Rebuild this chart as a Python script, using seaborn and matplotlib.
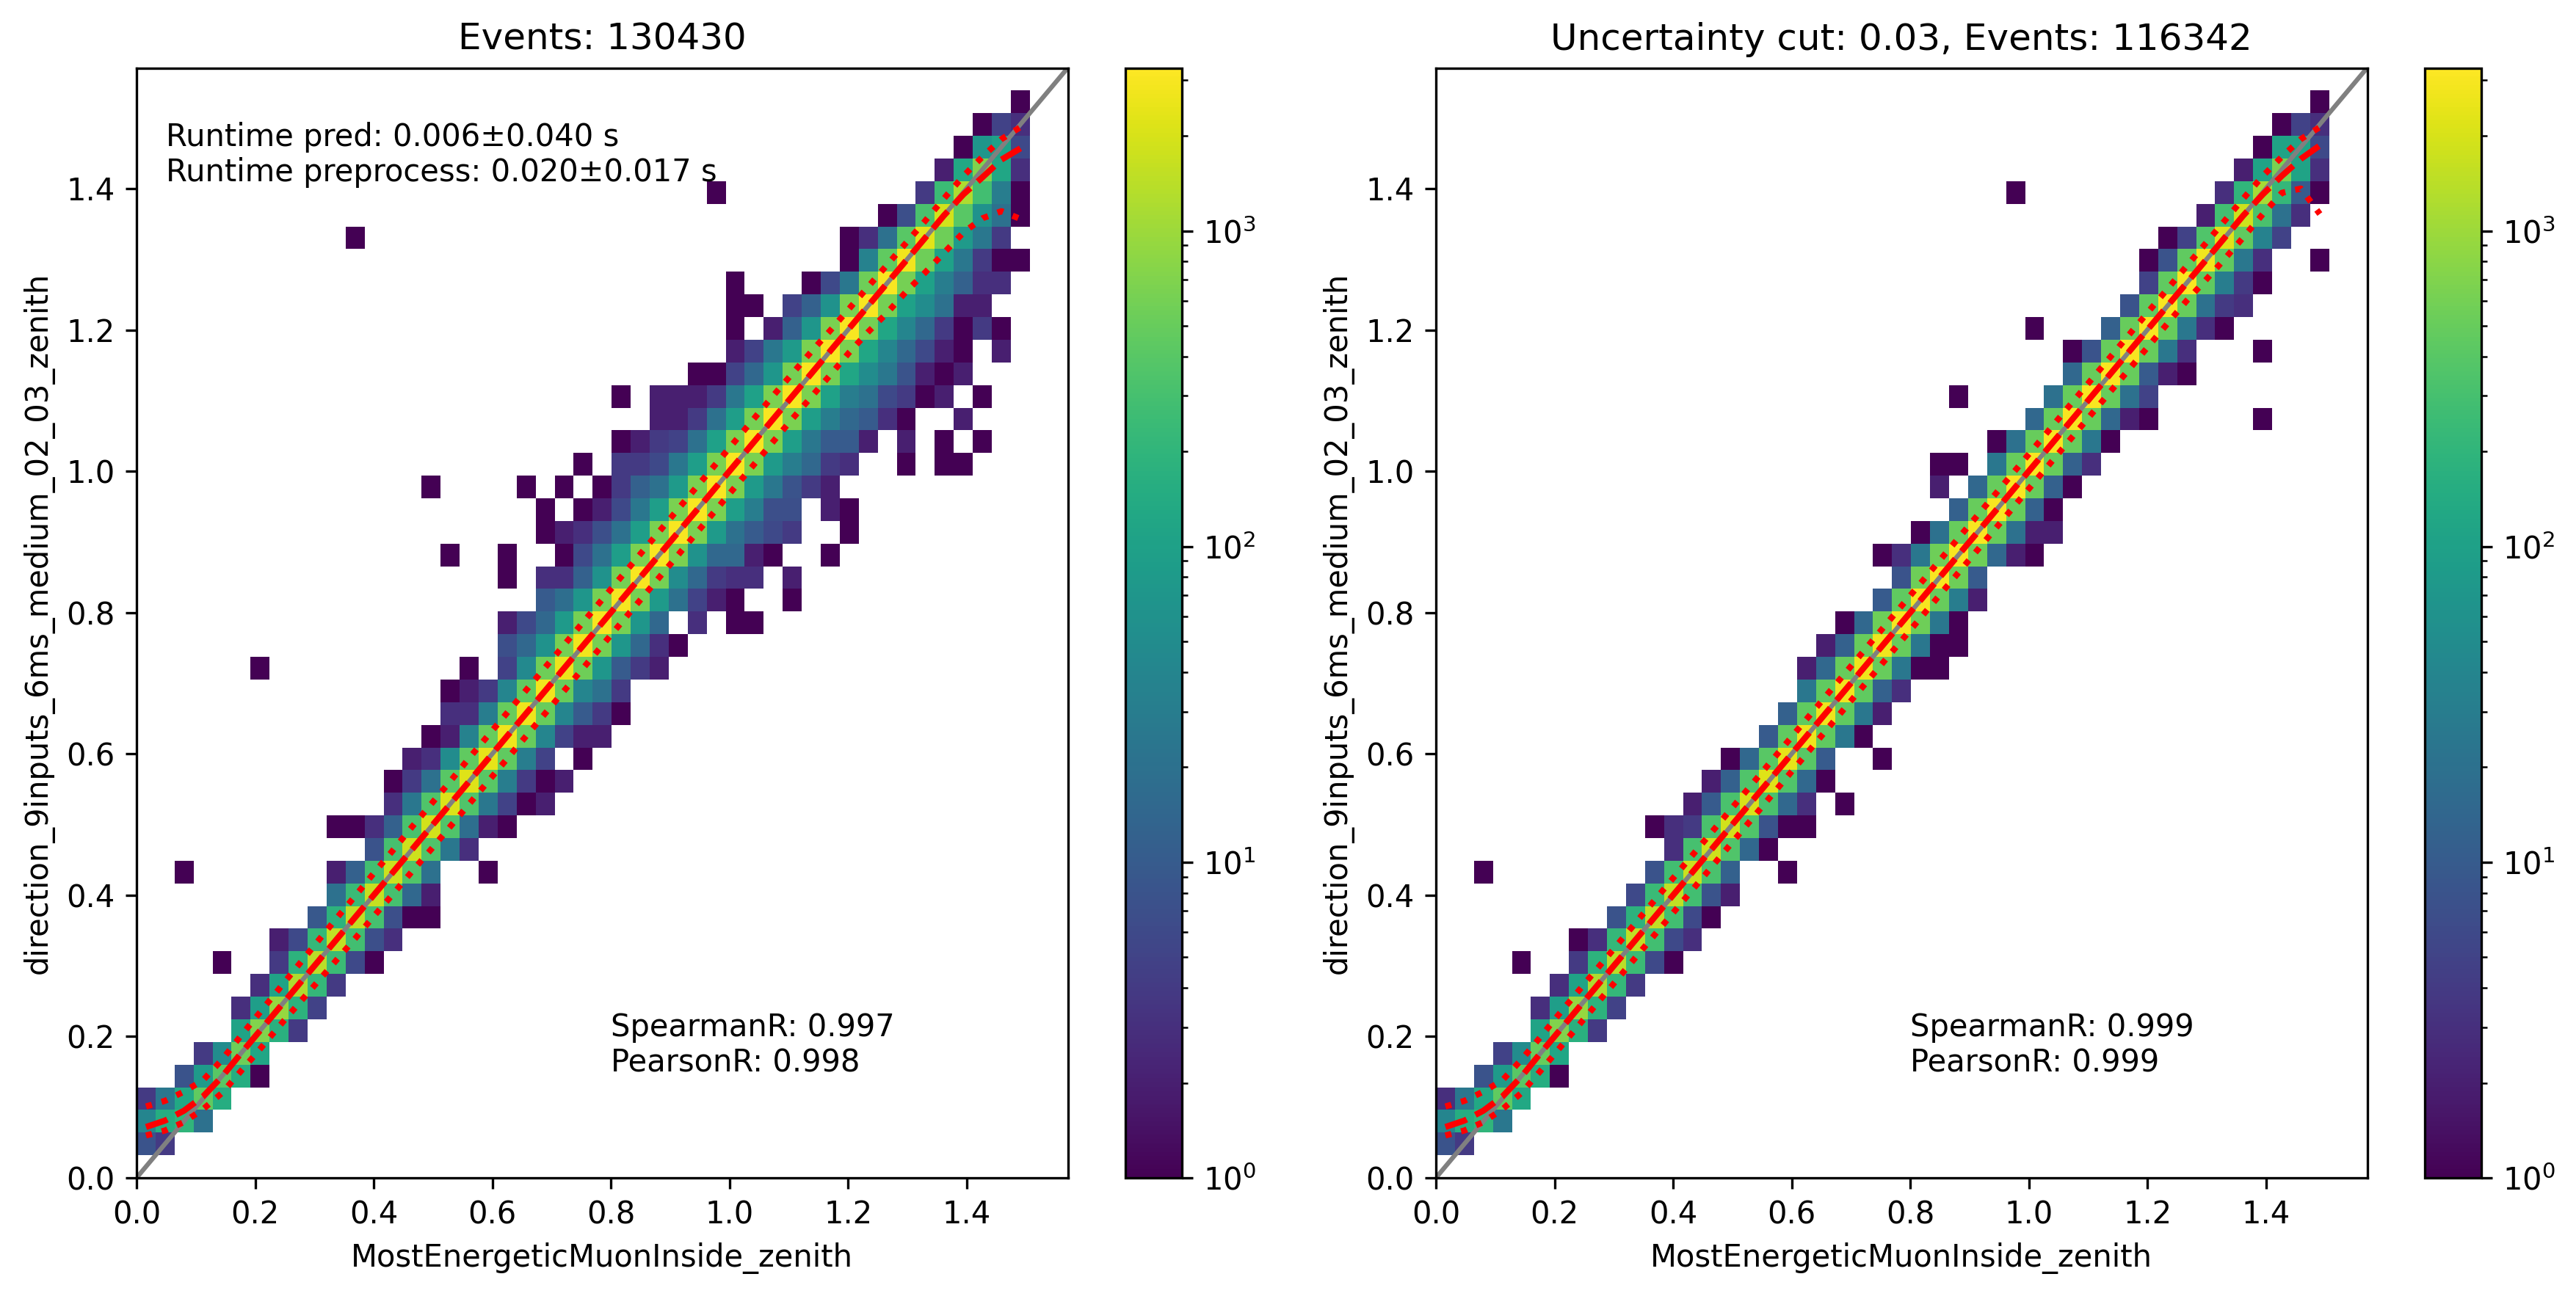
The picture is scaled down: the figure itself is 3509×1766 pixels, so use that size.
import numpy as np
import matplotlib
matplotlib.use("Agg")
import matplotlib.pyplot as plt
from matplotlib.colors import LogNorm
import seaborn as sns

# counts per y-bin: {y-bin index: {x-bin index: count}}
left_counts = {
 1: {0:8,1:4},
 2: {0:40,1:150,2:200,3:20},
 3: {0:4,1:25,2:130,3:450,4:150},
 4: {2:8,3:80,4:400,5:150,6:1},
 5: {3:4,4:50,5:550,6:120},
 6: {5:110,6:700,7:170,8:4},
 7: {5:3,6:90,7:900,8:180,9:5},
 8: {6:3,7:110,8:1200,9:220,10:4},
 9: {4:1,7:4,8:180,9:1400,10:250,11:6,12:1},
 10: {7:2,8:6,9:220,10:1500,11:280,12:7,13:3},
 11: {9:9,10:180,11:1500,12:300,13:7,14:1,15:1},
 12: {10:20,11:240,12:1600,13:300,14:15,15:2},
 13: {2:1,10:2,11:12,12:280,13:1700,14:350,15:20,18:1},
 14: {12:8,13:300,14:1800,15:350,16:25,17:3},
 15: {10:1,11:1,12:3,13:12,14:320,15:1900,16:350,17:18,18:2,19:1},
 16: {13:3,14:25,15:350,16:2100,17:350,18:25,19:5,20:1,21:2},
 17: {13:1,14:4,15:20,16:400,17:2200,18:400,19:30,20:4,21:1,22:2},
 18: {14:2,15:3,16:50,17:450,18:2400,19:450,20:30,21:5,23:1},
 19: {15:1,16:2,17:35,18:500,19:2700,20:500,21:40,22:5,23:2,24:2},
 20: {16:3,17:3,18:30,19:500,20:2700,21:500,22:40,23:10,24:4,25:1},
 21: {16:1,17:2,18:4,19:40,20:450,21:2800,22:500,23:40,24:20,25:4},
 22: {6:1,17:1,19:5,20:45,21:550,22:2600,23:550,24:70,25:10,26:4,27:2},
 23: {19:7,20:15,21:60,22:600,23:2800,24:600,25:70,26:15,27:3,28:1},
 24: {19:2,20:6,21:15,22:80,23:600,24:2900,25:600,26:70,27:15,29:3,31:1,32:1},
 25: {21:10,22:18,23:70,24:600,25:2900,26:600,27:80,28:20,29:5,30:2,31:1,34:1},
 26: {19:1,21:3,22:3,23:12,24:60,25:600,26:3000,27:600,28:50,29:15,30:4,31:3,32:3,34:2},
 27: {16:1,19:1,22:1,23:6,24:20,25:90,26:650,27:3000,28:650,29:60,30:15,31:15,32:2,33:1,36:1},
 28: {21:1,22:2,23:3,24:7,25:20,26:90,27:650,28:3000,29:650,30:80,31:20,32:10,33:6,34:4,37:1},
 29: {21:1,23:1,24:2,25:6,26:25,27:90,28:650,29:3000,30:650,31:90,32:30,33:7,34:7,36:2,37:1},
 30: {15:1,20:1,22:1,24:1,25:4,26:12,27:20,28:80,29:650,30:3000,31:650,32:80,33:25,34:8,35:4,36:2},
 31: {23:1,25:4,26:4,27:6,28:25,29:90,30:650,31:3000,32:650,33:80,34:30,35:15,36:4,37:3,40:1,42:1,43:1},
 32: {25:1,26:2,27:4,28:5,29:20,30:100,31:650,32:3000,33:650,34:90,35:25,36:10,37:10,38:2,40:2,42:1,44:1},
 33: {27:2,28:2,29:4,30:20,31:90,32:600,33:3000,34:650,35:90,36:30,37:15,38:10,39:3,40:1,43:2},
 34: {25:1,27:2,28:2,29:2,30:4,31:25,32:100,33:650,34:3000,35:650,36:100,37:30,38:20,39:6,40:4,41:1,42:2,44:1},
 35: {29:1,30:1,31:5,32:15,33:70,34:600,35:3000,36:600,37:120,38:50,39:25,40:8,41:2,42:1,43:2},
 36: {31:2,32:5,33:25,34:80,35:650,36:3000,37:650,38:120,39:40,40:15,41:6,42:2,43:1,45:2},
 37: {31:1,33:2,34:12,35:70,36:650,37:3000,38:600,39:120,40:40,41:15,42:4,43:1,44:4,45:1},
 38: {31:1,32:1,34:5,35:12,36:60,37:650,38:3000,39:600,40:100,41:50,42:20,43:2,44:2},
 39: {31:1,35:1,36:6,37:25,38:550,39:3000,40:600,41:100,42:30,43:12,44:3,45:3},
 40: {37:1,38:35,39:450,40:2800,41:550,42:100,43:25,44:4,45:1,46:1},
 41: {11:1,37:1,38:3,39:20,40:400,41:2300,42:550,43:80,44:25,45:4},
 42: {39:1,40:7,41:320,42:1900,43:400,44:60,45:20,46:1},
 43: {30:1,41:4,42:250,43:1200,44:280,45:30,46:1},
 44: {42:2,43:130,44:700,45:120,46:3},
 45: {43:1,44:70,45:100,46:6},
 46: {44:1,45:5,46:3},
 47: {46:1},
}
right_counts = {
 1: {0:8,1:4},
 2: {0:40,1:150,2:200,3:25},
 3: {0:3,1:25,2:130,3:450,4:130},
 4: {2:8,3:80,4:400,5:150,6:1},
 5: {3:5,4:50,5:500,6:120},
 6: {5:110,6:700,7:170,8:4},
 7: {5:3,6:90,7:900,8:180,9:5},
 8: {6:3,7:110,8:1200,9:220,10:4},
 9: {4:1,7:4,8:180,9:1400,10:250,11:6,12:1},
 10: {7:1,8:3,9:220,10:1500,11:280,12:6,13:3},
 11: {9:8,10:180,11:1500,12:280,13:6,14:1},
 12: {10:6,11:240,12:1500,13:280,14:8,15:2},
 13: {2:1,11:8,12:280,13:1700,14:320,15:12,18:1},
 14: {12:3,13:300,14:1800,15:350,16:15,17:1},
 15: {11:1,12:3,13:4,14:320,15:1900,16:350,17:8,18:1,19:1},
 16: {13:2,14:10,15:320,16:2000,17:320,18:15,19:3,21:1},
 17: {14:2,15:12,16:350,17:2200,18:350,19:15,20:1},
 18: {15:1,16:15,17:400,18:2400,19:400,20:10,23:1},
 19: {17:10,18:450,19:2700,20:450,21:25,22:1},
 20: {18:12,19:450,20:2700,21:450,22:25,23:2},
 21: {19:25,20:450,21:2800,22:450,23:12,24:3},
 22: {19:2,20:15,21:500,22:2700,23:500,24:25,25:1,26:1},
 23: {20:2,21:12,22:500,23:2800,24:500,25:25,26:1,27:1},
 24: {21:1,22:15,23:550,24:2900,25:550,26:25,27:1},
 25: {23:10,24:450,25:2900,26:500,27:30,28:2},
 26: {24:8,25:550,26:3000,27:550,28:10},
 27: {23:1,24:3,25:25,26:550,27:3000,28:550,29:15,30:2,31:1},
 28: {25:1,26:20,27:500,28:3000,29:500,30:20,31:2,32:2},
 29: {27:12,28:500,29:3000,30:500,31:12,32:1},
 30: {26:2,28:15,29:500,30:3000,31:500,32:12,33:1},
 31: {26:1,27:1,29:25,30:500,31:3000,32:500,33:12,34:3},
 32: {29:1,30:20,31:500,32:3000,33:500,34:25,35:1},
 33: {31:15,32:500,33:3000,34:500,35:15,36:2,37:1,43:1},
 34: {27:1,32:20,33:500,34:3000,35:500,36:20,37:5},
 35: {33:15,34:500,35:3000,36:500,37:10,38:2,39:1},
 36: {33:1,34:8,35:500,36:3000,37:500,38:25,39:3,43:1},
 37: {31:1,35:12,36:500,37:3000,38:500,39:25,40:3,41:1},
 38: {36:8,37:450,38:3000,39:500,40:20,41:4,42:3},
 39: {37:5,38:450,39:3000,40:450,41:30,42:4,43:1},
 40: {37:1,38:8,39:450,40:2800,41:450,42:25,43:3,46:1},
 41: {38:1,39:5,40:350,41:2200,42:450,43:35,44:5},
 42: {40:2,41:280,42:1800,43:320,44:20,45:3},
 43: {30:1,41:3,42:200,43:1100,44:220,45:10,46:1},
 44: {42:2,43:110,44:650,45:110,46:3},
 45: {43:1,44:110,45:110,46:6},
 46: {44:1,45:5,46:3},
 47: {46:1},
}

# percentile curves read at the x-bin centres
bin_centers = [.016,.048,.080,.112,.144,.176,.208,.240,.272,.305,.337,.369,.401,.433,.465,.497,
               .529,.561,.593,.625,.657,.689,.721,.753,.785,.817,.850,.882,.914,.946,.978,1.010,
               1.042,1.074,1.106,1.138,1.170,1.202,1.234,1.266,1.298,1.330,1.362,1.395,1.427,1.459,1.491]
median_left = [.072,.081,.095,.115,.143,.176,.208,.240,.272,.305,.337,.369,.401,.433,.465,.497,
               .529,.561,.593,.625,.657,.689,.721,.753,.785,.817,.850,.882,.914,.946,.978,1.010,
               1.042,1.074,1.106,1.138,1.170,1.202,1.234,1.266,1.298,1.330,1.362,1.392,1.416,1.441,1.457]
upper_left = [.101,.109,.122,.138,.167,.201,.234,.267,.300,.334,.367,.399,.432,.464,.497,.529,
              .561,.594,.626,.658,.690,.722,.754,.786,.818,.850,.883,.915,.947,.979,1.011,1.043,
              1.075,1.107,1.138,1.169,1.199,1.230,1.261,1.292,1.323,1.354,1.386,1.418,1.445,1.470,1.487]
lower_left = [.060,.067,.079,.097,.120,.151,.182,.214,.245,.277,.308,.339,.371,.402,.434,.465,
              .497,.529,.561,.593,.625,.657,.689,.721,.753,.785,.818,.850,.882,.914,.946,.978,
              1.010,1.042,1.074,1.105,1.136,1.168,1.197,1.224,1.254,1.281,1.309,1.338,1.358,1.368,1.357]
median_right = [.072,.081,.095,.115,.143,.176,.208,.240,.272,.305,.337,.369,.401,.433,.465,.497,
                .529,.561,.593,.625,.657,.689,.721,.753,.785,.817,.850,.882,.914,.946,.978,1.010,
                1.042,1.074,1.106,1.138,1.170,1.202,1.234,1.266,1.298,1.330,1.362,1.392,1.418,1.442,1.461]
upper_right = [.101,.109,.122,.138,.167,.199,.232,.264,.296,.329,.361,.393,.425,.457,.489,.521,
               .553,.585,.617,.649,.681,.713,.745,.777,.809,.841,.874,.906,.938,.970,1.002,1.034,
               1.066,1.098,1.130,1.162,1.194,1.226,1.258,1.290,1.322,1.354,1.386,1.418,1.445,1.470,1.487]
lower_right = [.060,.067,.079,.097,.120,.151,.183,.215,.247,.280,.312,.344,.376,.408,.440,.472,
               .504,.536,.568,.600,.632,.664,.696,.728,.760,.792,.825,.857,.889,.921,.953,.985,
               1.017,1.049,1.081,1.113,1.145,1.177,1.209,1.241,1.270,1.300,1.331,1.364,1.394,1.400,1.364]

titles = ["Events: 130430", "Uncertainty cut: 0.03, Events: 116342"]
corr_texts = ["SpearmanR: 0.997\nPearsonR: 0.998", "SpearmanR: 0.999\nPearsonR: 0.999"]
runtime_text = "Runtime pred: 0.006\u00b10.040 s\nRuntime preprocess: 0.020\u00b10.017 s"
x_label = "MostEnergeticMuonInside_zenith"
y_label = "direction_9inputs_6ms_medium_02_03_zenith"

W, H = 3509, 1766
fig = plt.figure(figsize=(W / 300, H / 300), dpi=300)
edges = np.linspace(0, np.pi / 2, 50)
centers = (edges[:-1] + edges[1:]) / 2


def rect(x0, x1, y0, y1):
    return [x0 / W, 1 - y1 / H, (x1 - x0) / W, (y1 - y0) / H]


def draw(counts, median, upper, lower, ax_rect, cax_rect, title, corr):
    ax = fig.add_axes(ax_rect)
    cax = fig.add_axes(cax_rect)
    xs, ys, ws = [], [], []
    for row, cols in counts.items():
        for col, val in cols.items():
            xs.append(centers[col]); ys.append(centers[row]); ws.append(val)
    sns.histplot(x=xs, y=ys, weights=ws, bins=[edges, edges], cmap="viridis",
                 norm=LogNorm(vmin=1, vmax=3283), vmin=None, vmax=None,
                 cbar=True, cbar_ax=cax, ax=ax)
    ax.plot([0, np.pi / 2], [0, np.pi / 2], color="grey", lw=1.5)
    ax.plot(bin_centers, median, color="red", ls="--", lw=2)
    ax.plot(bin_centers, upper, color="red", ls=":", lw=2)
    ax.plot(bin_centers, lower, color="red", ls=":", lw=2)
    ax.set_xlim(0, np.pi / 2)
    ax.set_ylim(0, np.pi / 2)
    ax.set_xticks(np.arange(0, 1.5, 0.2))
    ax.set_yticks(np.arange(0, 1.5, 0.2))
    ax.set_xlabel(x_label)
    ax.set_ylabel(y_label)
    ax.set_title(title)
    ax.text(0.8, 0.15, corr)
    return ax


ax0 = draw(left_counts, median_left, upper_left, lower_left,
           rect(186, 1454.5, 92.5, 1605), rect(1533, 1610, 92.5, 1605), titles[0], corr_texts[0])
ax0.text(0.05, 1.41, runtime_text)
draw(right_counts, median_right, upper_right, lower_right,
     rect(1956, 3224.5, 92.5, 1605), rect(3303, 3380, 92.5, 1605), titles[1], corr_texts[1])
fig.savefig("out.png", dpi=300)
